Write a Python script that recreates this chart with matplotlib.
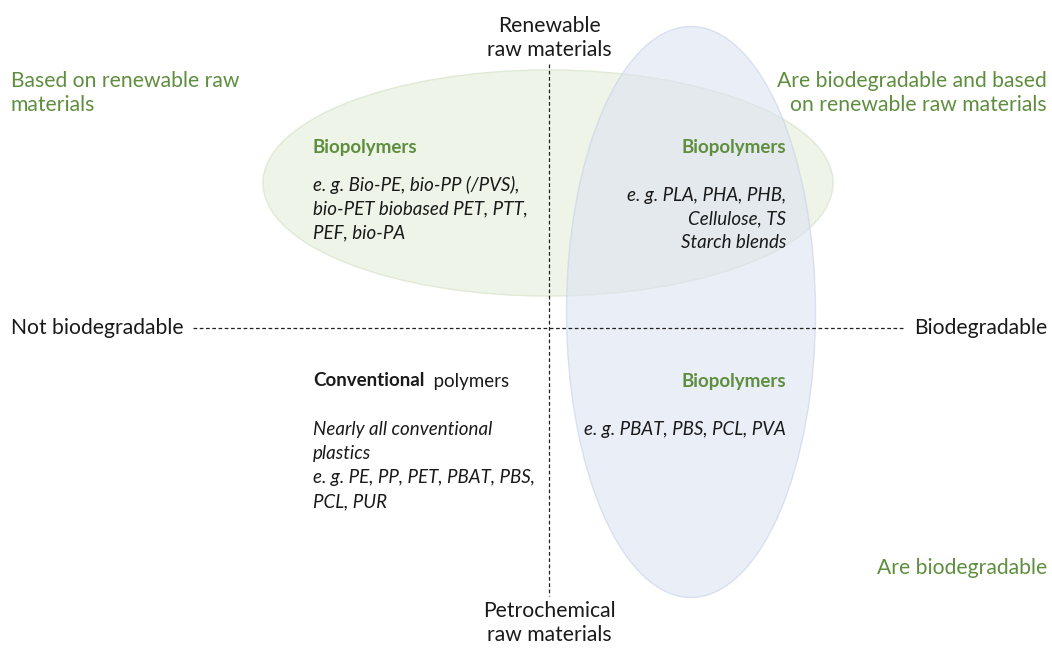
import matplotlib
matplotlib.use("Agg")
import matplotlib.pyplot as plt
from matplotlib.patches import Ellipse

plt.rcParams['font.family'] = ['Lato', 'DejaVu Sans']

GREEN = '#5E8E3E'
BLACK = '#1a1a1a'

# axis labels
axis_top = "Renewable\nraw materials"
axis_bottom = "Petrochemical\nraw materials"
axis_left = "Not biodegradable"
axis_right = "Biodegradable"

# corner labels
corner_tl = "Based on renewable raw\nmaterials"
corner_tr = "Are biodegradable and based\non renewable raw materials"
corner_br = "Are biodegradable"

# quadrant contents
q_tl_title = "Biopolymers"
q_tl_lines = ["e. g. Bio-PE, bio-PP (/PVS),", "bio-PET biobased PET, PTT,", "PEF, bio-PA"]
q_tr_title = "Biopolymers"
q_tr_lines = ["e. g. PLA, PHA, PHB,", "Cellulose, TS", "Starch blends"]
q_br_title = "Biopolymers"
q_br_lines = ["e. g. PBAT, PBS, PCL, PVA"]
q_bl_title_bold = "Conventional"
q_bl_title_rest = "  polymers"
q_bl_lines = ["Nearly all conventional", "plastics", "e. g. PE, PP, PET, PBAT, PBS,", "PCL, PUR"]

W, H = 1052, 650
fig = plt.figure(figsize=(W/100, H/100), dpi=100)
ax = fig.add_axes([0, 0, 1, 1])
ax.set_xlim(0, W)
ax.set_ylim(H, 0)
ax.axis('off')

# ellipses
ax.add_patch(Ellipse((548, 183), 570, 226, facecolor='#EEF4E7', edgecolor='#E0EAD6', lw=1, zorder=1))
ax.add_patch(Ellipse((691, 312), 249, 571, facecolor='#DCE3F2', edgecolor='#C8D1E8', lw=1, alpha=0.6, zorder=2))

# axes lines
ax.plot([549, 549], [64, 596], color='#222222', lw=0.9, ls=(0, (3, 2)), zorder=3)
ax.plot([193, 905], [328, 328], color='#222222', lw=0.9, ls=(0, (3, 2)), zorder=3)

fs_big = 15.2
fs = 13.5
ls_big = 1.3

ax.text(549, 38, axis_top, ha='center', va='center', fontsize=fs_big, color=BLACK, linespacing=ls_big, zorder=4)
ax.text(549, 623, axis_bottom, ha='center', va='center', fontsize=fs_big, color=BLACK, linespacing=ls_big, zorder=4)
ax.text(11, 328, axis_left, ha='left', va='center', fontsize=fs_big, color=BLACK, zorder=4)
ax.text(1047, 328, axis_right, ha='right', va='center', fontsize=fs_big, color=BLACK, zorder=4)

ax.text(11, 93, corner_tl, ha='left', va='center', fontsize=fs_big, color=GREEN, linespacing=ls_big, zorder=4)
ax.text(1047, 93, corner_tr, ha='right', va='center', fontsize=fs_big, color=GREEN, linespacing=ls_big, multialignment='right', zorder=4)
ax.text(1047, 568, corner_br, ha='right', va='center', fontsize=fs_big, color=GREEN, zorder=4)

step = 24
ax.text(313, 147, q_tl_title, ha='left', va='center', fontsize=fs, color=GREEN, fontweight='bold', zorder=4)
for i, t in enumerate(q_tl_lines):
    ax.text(313, 185 + i*step, t, ha='left', va='center', fontsize=fs, color=BLACK, style='italic', zorder=4)

ax.text(786, 147, q_tr_title, ha='right', va='center', fontsize=fs, color=GREEN, fontweight='bold', zorder=4)
for i, t in enumerate(q_tr_lines):
    ax.text(786, 196 + i*23, t, ha='right', va='center', fontsize=fs, color=BLACK, style='italic', zorder=4)

ax.text(786, 381, q_br_title, ha='right', va='center', fontsize=fs, color=GREEN, fontweight='bold', zorder=4)
for i, t in enumerate(q_br_lines):
    ax.text(786, 430 + i*step, t, ha='right', va='center', fontsize=fs, color=BLACK, style='italic', zorder=4)

tb = ax.text(313, 381, q_bl_title_bold, ha='left', va='center', fontsize=fs, color=BLACK, fontweight='bold', zorder=4)
fig.canvas.draw()
bb = tb.get_window_extent()
x_end = bb.x1  # pixels, same as data x since axes covers figure
ax.text(x_end, 381, q_bl_title_rest, ha='left', va='center', fontsize=fs, color=BLACK, zorder=4)
for i, t in enumerate(q_bl_lines):
    ax.text(313, 430 + i*step, t, ha='left', va='center', fontsize=fs, color=BLACK, style='italic', zorder=4)

fig.savefig('out.png', dpi=100)
